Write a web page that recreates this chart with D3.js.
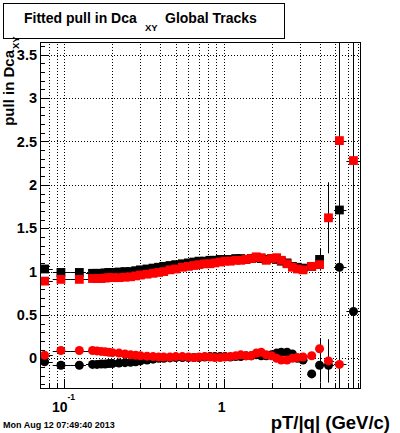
<!DOCTYPE html>
<html>
<head>
<meta charset="utf-8">
<script src="https://cdn.jsdelivr.net/npm/d3@7"></script>
<style>
  body { margin: 0; background: #fff; }
</style>
</head>
<body>
<script>
// bin centres, pT/|q| in GeV/c
const pt = [0.075, 0.095, 0.124, 0.15, 0.16, 0.17, 0.18, 0.19, 0.2, 0.22,
  0.24, 0.26, 0.28, 0.3, 0.33, 0.36, 0.39, 0.42, 0.46, 0.5,
  0.55, 0.6, 0.65, 0.7, 0.76, 0.82, 0.88, 0.95, 1.02, 1.1,
  1.19, 1.28, 1.38, 1.49, 1.6, 1.72, 1.85, 2.0, 2.15, 2.3,
  2.5, 2.7, 2.9, 3.15, 3.57, 4.0, 4.55, 5.33, 6.53];

// pull widths (squares)
const blackWidth = [1.03, 0.99, 0.99, 0.98, 0.98, 0.98, 0.985, 0.99, 0.99, 0.995,
  1.0, 1.0, 1.01, 1.02, 1.03, 1.04, 1.05, 1.06, 1.07, 1.08,
  1.09, 1.1, 1.11, 1.12, 1.12, 1.13, 1.13, 1.14, 1.14, 1.14,
  1.15, 1.15, 1.14, 1.15, 1.16, 1.15, 1.14, 1.15, 1.14, 1.12,
  1.1, 1.06, 1.05, 1.04, 1.06, 1.14, null, 1.71, null];
const redWidth = [0.89, 0.91, 0.91, 0.92, 0.92, 0.92, 0.925, 0.93, 0.93, 0.93,
  0.935, 0.94, 0.95, 0.96, 0.97, 0.98, 0.99, 1.0, 1.02, 1.03,
  1.05, 1.06, 1.07, 1.08, 1.09, 1.09, 1.1, 1.11, 1.12, 1.12,
  1.13, 1.13, 1.14, 1.15, 1.17, 1.16, 1.13, 1.15, 1.16, 1.13,
  1.09, 1.05, 1.03, 1.02, 1.06, 1.08, 1.62, 2.51, 2.28];

// pull means (circles)
const blackMean = [-0.04, -0.08, -0.08, -0.07, -0.07, -0.065, -0.065, -0.06, -0.06, -0.055,
  -0.05, -0.045, -0.04, -0.03, -0.02, -0.01, 0.0, 0.0, 0.005, 0.01,
  0.01, 0.01, 0.01, 0.01, 0.015, 0.02, 0.02, 0.02, 0.02, 0.015,
  0.02, 0.02, 0.03, 0.03, 0.04, 0.03, 0.03, 0.04, 0.06, 0.07,
  0.07, 0.05, 0.0, -0.02, -0.18, -0.08, -0.08, 1.05, 0.54];
const redMean = [0.035, 0.09, 0.09, 0.09, 0.085, 0.08, 0.075, 0.07, 0.065, 0.06,
  0.05, 0.04, 0.035, 0.03, 0.025, 0.02, 0.015, 0.015, 0.015, 0.02,
  0.02, 0.015, 0.01, 0.015, 0.02, 0.015, 0.01, 0.01, 0.015, 0.02,
  0.03, 0.04, 0.03, 0.03, 0.06, 0.07, 0.04, 0.03, 0.0, -0.02,
  -0.02, 0.0, 0.01, 0.015, 0.03, 0.11, -0.03, -0.07, null];

// vertical errors for the last bins (earlier bins are smaller than the markers)
const errFrom = 43;
const blackWidthErr = [0.03, 0.04, 0.13, 0, 3.6, 0];
const redWidthErr = [0.03, 0.04, 0.05, 0.41, 0.05, 0.05];
const blackMeanErr = [0.03, 0.04, 0.2, 0.05, 0.05, 3.6];
const redMeanErr = [0.03, 0.04, 0.12, 0.25, 0.05, 0];

const yMajorTicks = [0, 0.5, 1, 1.5, 2, 2.5, 3, 3.5];
const yMinorTicks = d3.range(-3, 37).map(d => d / 10);
const xTicks = [0.08, 0.09, 0.1, 0.2, 0.3, 0.4, 0.5, 0.6, 0.7, 0.8, 0.9,
  1, 2, 3, 4, 5, 6, 7];
const xDecades = [0.1, 1];

const width = 400, height = 433;
const fL = 40.5, fR = 360.5, fT = 42.5, fB = 388.5;
const font = "'Liberation Sans', Arial, Helvetica, sans-serif";

const x = d3.scaleLog().domain([0.0707, 7.23]).range([fL, fR]);
const y = d3.scaleLinear().domain([-0.348, 3.641]).range([fB, fT]);

const svg = d3.select("body").append("svg")
  .attr("width", width)
  .attr("height", height)
  .attr("font-family", font)
  .attr("font-weight", "bold");

svg.append("rect").attr("width", width).attr("height", height).attr("fill", "#fff");

svg.append("clipPath").attr("id", "frame")
  .append("rect")
  .attr("x", fL).attr("y", fT)
  .attr("width", fR - fL).attr("height", fB - fT);

// grid, dotted
const grid = svg.append("g")
  .attr("stroke", "#000")
  .attr("stroke-width", 1)
  .attr("stroke-dasharray", "1,2")
  .attr("shape-rendering", "crispEdges");
grid.selectAll(".gx").data(xTicks).join("line")
  .attr("class", "gx")
  .attr("x1", d => Math.round(x(d)) + 0.5).attr("x2", d => Math.round(x(d)) + 0.5)
  .attr("y1", fT + 1.5).attr("y2", fB);
grid.selectAll(".gy").data(yMajorTicks).join("line")
  .attr("class", "gy")
  .attr("x1", fL + 1.5).attr("x2", fR)
  .attr("y1", d => Math.round(y(d)) + 0.5).attr("y2", d => Math.round(y(d)) + 0.5);

// axes (ticks point inwards)
svg.append("g").attr("transform", `translate(${fL - 0.5},0)`)
  .call(d3.axisLeft(y).tickValues(yMinorTicks).tickSize(-4.5).tickFormat(""));
const yMajor = svg.append("g").attr("transform", `translate(${fL - 0.5},0)`)
  .call(d3.axisLeft(y).tickValues(yMajorTicks).tickSize(-9).tickPadding(3)
    .tickFormat(d3.format("")));
yMajor.selectAll("text")
  .attr("font-size", 14.5).attr("font-family", font).attr("font-weight", "bold")
  .attr("fill", "#000");

svg.append("g").attr("transform", `translate(0,${fB - 0.5})`)
  .call(d3.axisBottom(x).tickValues(xTicks.filter(d => !xDecades.includes(d)))
    .tickSize(-5).tickFormat(""));
svg.append("g").attr("transform", `translate(0,${fB - 0.5})`)
  .call(d3.axisBottom(x).tickValues(xDecades).tickSize(-9).tickFormat(""));
svg.selectAll(".domain").remove();
svg.selectAll(".tick line").attr("stroke", "#000").attr("shape-rendering", "crispEdges");

// x tick labels
svg.append("text").attr("x", x(0.1) - 12.5).attr("y", 412)
  .attr("font-size", 14).text("10");
svg.append("text").attr("x", x(0.1) + 3).attr("y", 400)
  .attr("font-size", 8.5).text("-1");
svg.append("text").attr("x", x(1) - 2).attr("y", 412)
  .attr("font-size", 14).attr("text-anchor", "middle").text("1");

// data
const plot = svg.append("g");

function binEdges(i) {
  const n = pt.length - 1;
  const lo = i > 0 ? Math.sqrt(pt[i - 1] * pt[i]) : pt[0] * pt[0] / Math.sqrt(pt[0] * pt[1]);
  const hi = i < n ? Math.sqrt(pt[i] * pt[i + 1]) : pt[n] * pt[n] / Math.sqrt(pt[n - 1] * pt[n]);
  return [lo, hi];
}

function drawSeries(values, errs, color, shape) {
  const pts = values.map((v, i) => ({ i, p: pt[i], v, e: i >= errFrom ? errs[i - errFrom] : 0 }))
    .filter(d => d.v != null);
  const g = plot.append("g");
  const l = g.append("g").attr("clip-path", "url(#frame)")
    .attr("stroke", "#000").attr("stroke-width", 1);
  l.selectAll(".h").data(pts).join("line")
    .attr("class", "h")
    .attr("x1", d => x(binEdges(d.i)[0])).attr("x2", d => x(binEdges(d.i)[1]))
    .attr("y1", d => Math.round(y(d.v)) + 0.5).attr("y2", d => Math.round(y(d.v)) + 0.5);
  l.selectAll(".v").data(pts.filter(d => d.e > 0)).join("line")
    .attr("class", "v")
    .attr("x1", d => Math.round(x(d.p)) + 0.5).attr("x2", d => Math.round(x(d.p)) + 0.5)
    .attr("y1", d => y(d.v - d.e)).attr("y2", d => y(d.v + d.e));
  if (shape === "square") {
    g.selectAll("rect").data(pts).join("rect")
      .attr("x", d => x(d.p) - 4.4).attr("y", d => y(d.v) - 4.4)
      .attr("width", 8.8).attr("height", 8.8)
      .attr("fill", color);
  } else {
    g.selectAll("circle").data(pts).join("circle")
      .attr("cx", d => x(d.p)).attr("cy", d => y(d.v))
      .attr("r", 4.5)
      .attr("fill", color);
  }
}

drawSeries(blackMean, blackMeanErr, "#000", "circle");
drawSeries(blackWidth, blackWidthErr, "#000", "square");
drawSeries(redMean, redMeanErr, "#f00", "circle");
drawSeries(redWidth, redWidthErr, "#f00", "square");

// frame
svg.append("rect")
  .attr("x", fL).attr("y", fT)
  .attr("width", fR - fL).attr("height", fB - fT)
  .attr("fill", "none").attr("stroke", "#000");

// title box
svg.append("rect")
  .attr("x", 3.5).attr("y", 3.5).attr("width", 281).attr("height", 35)
  .attr("fill", "#fff").attr("stroke", "#000");
svg.append("text").attr("x", 24).attr("y", 23).attr("font-size", 14)
  .text("Fitted pull in Dca");
svg.append("text").attr("x", 145).attr("y", 31).attr("font-size", 9.5).text("XY");
svg.append("text").attr("x", 165).attr("y", 23).attr("font-size", 14).text("Global Tracks");

// axis titles
svg.append("text")
  .attr("transform", "translate(14,50) rotate(-90)")
  .attr("font-size", 15).attr("text-anchor", "end").text("pull in Dca");
svg.append("text")
  .attr("transform", "translate(19,49) rotate(-90)")
  .attr("font-size", 9.5).text("XY");
svg.append("text").attr("x", 390).attr("y", 429)
  .attr("font-size", 18.5).attr("text-anchor", "end").text("pT/|q| (GeV/c)");

svg.append("text").attr("x", 3).attr("y", 428)
  .attr("font-size", 9).text("Mon Aug 12 07:49:40 2013");
</script>
</body>
</html>
